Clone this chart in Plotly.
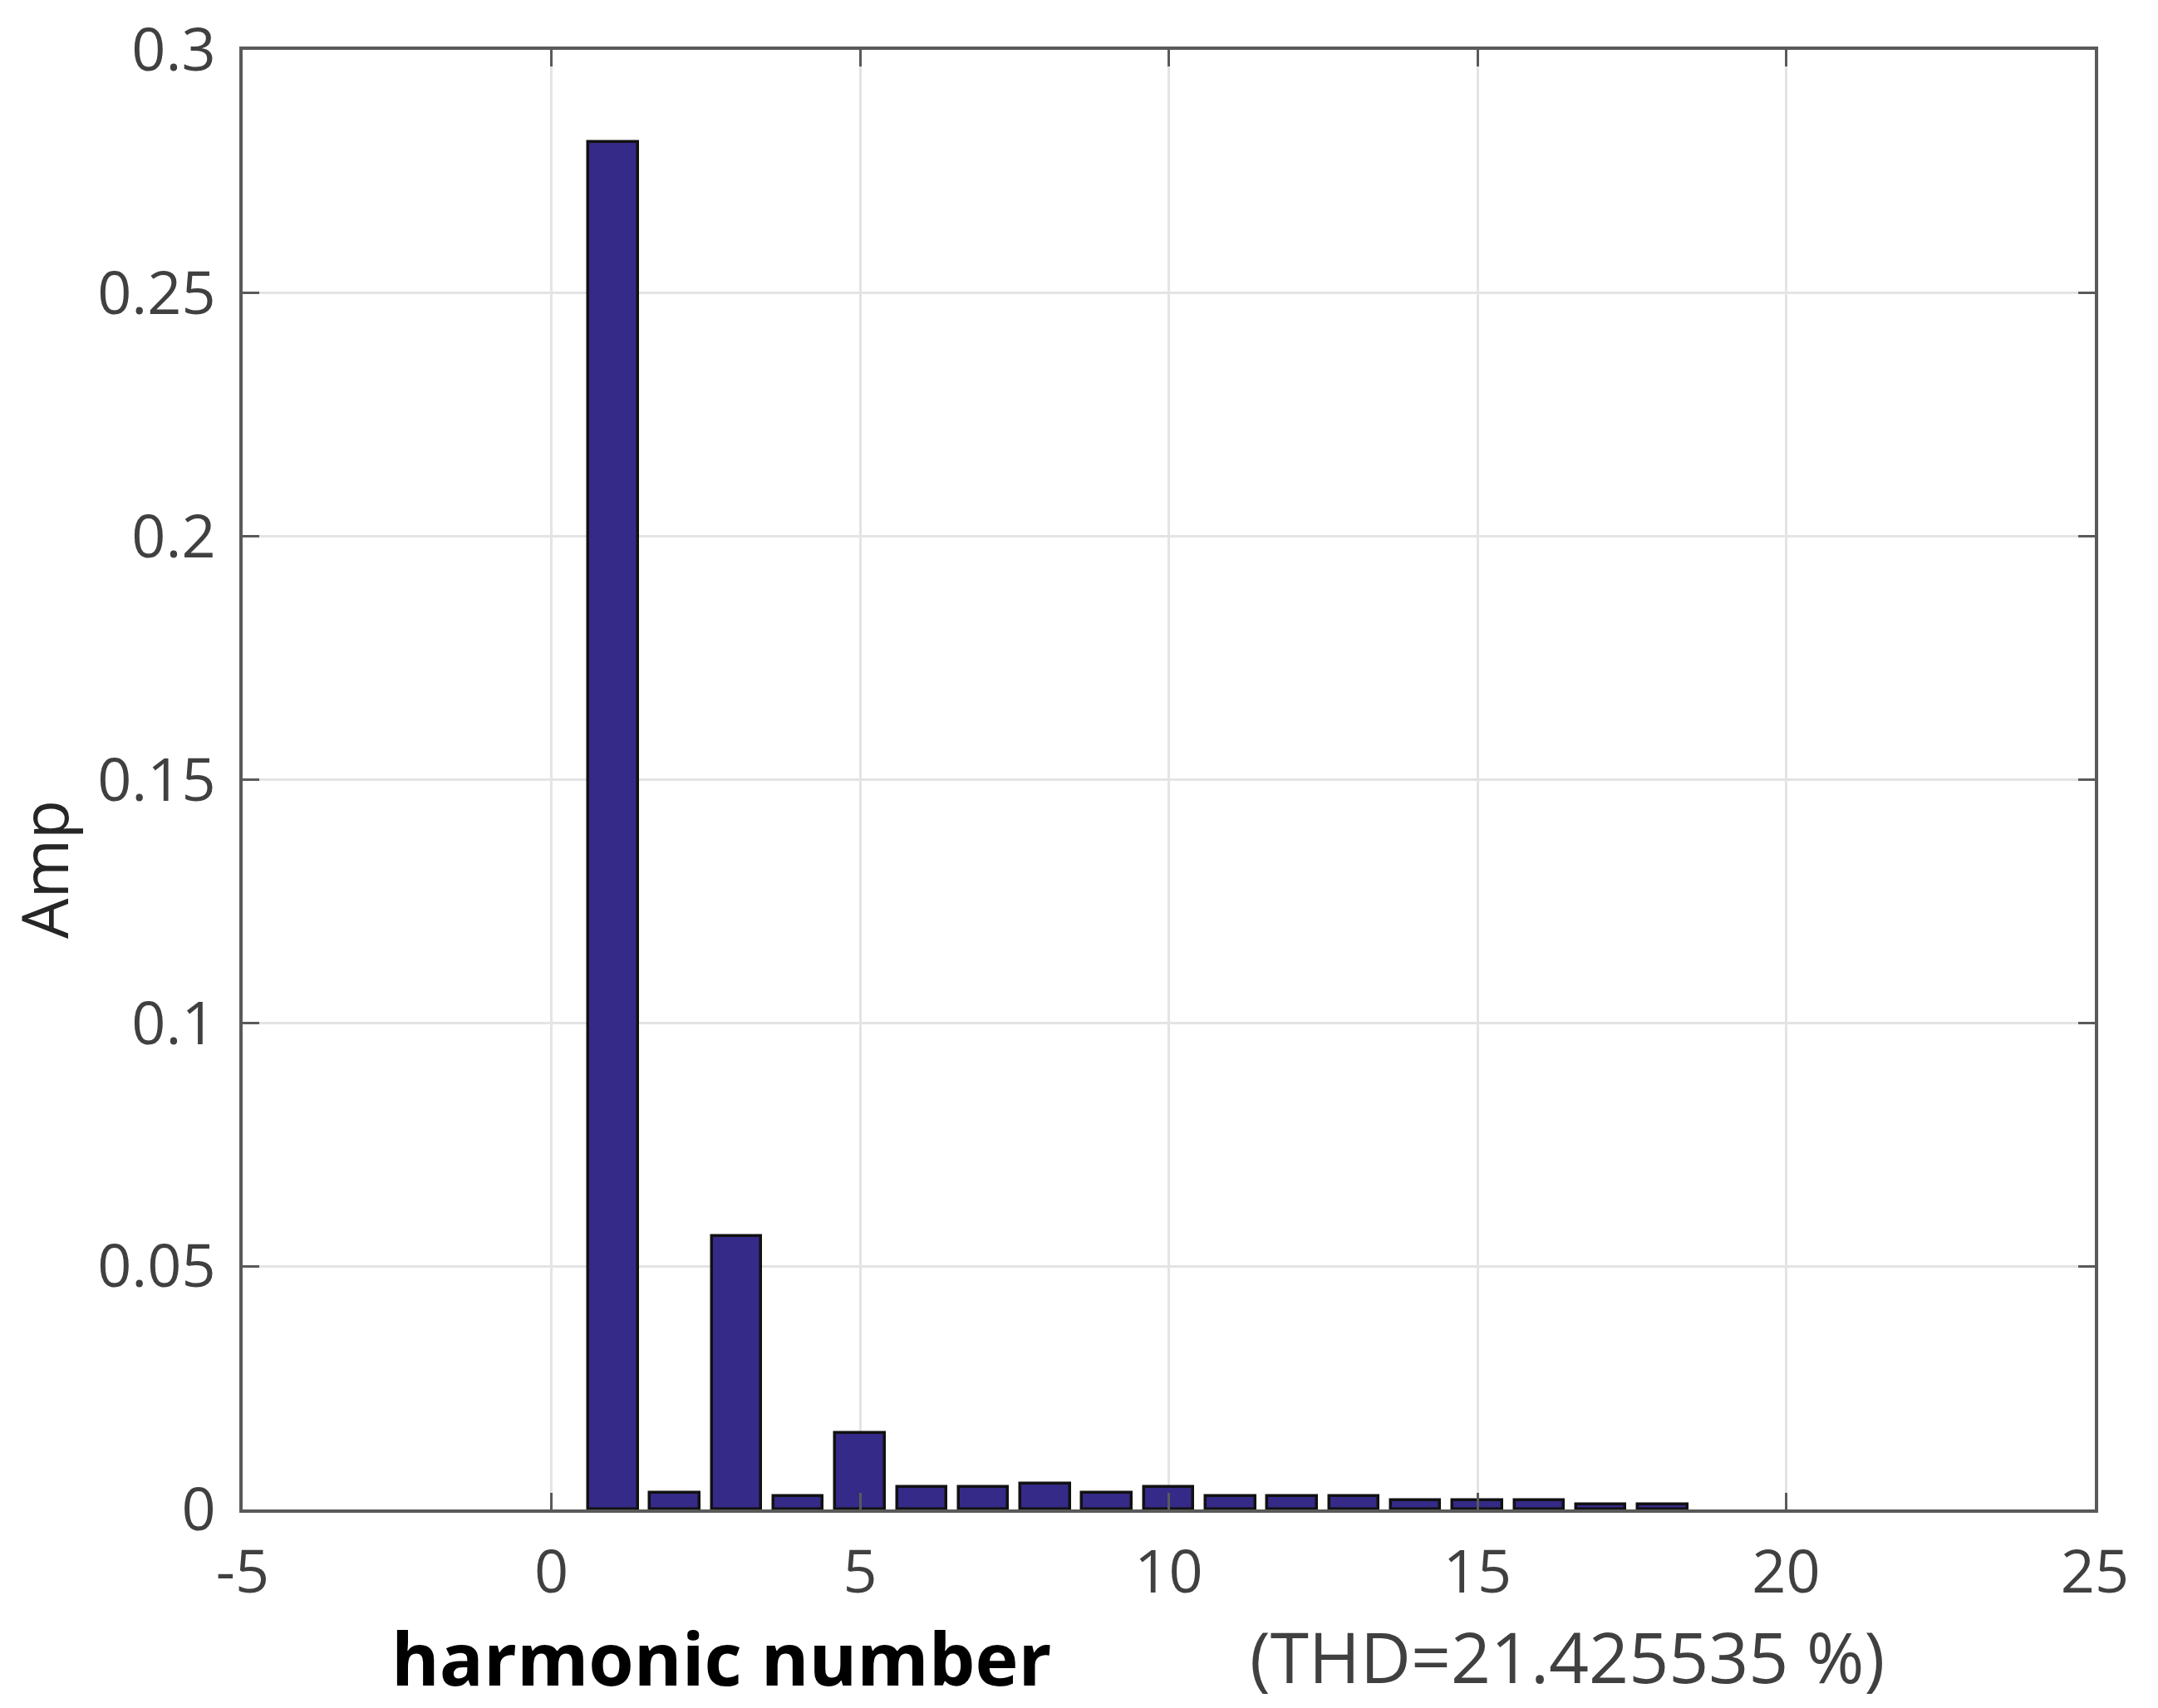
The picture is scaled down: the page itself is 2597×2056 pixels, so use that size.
import plotly.graph_objects as go

# harmonic spectrum
harmonic = [1, 2, 3, 4, 5, 6, 7, 8, 9, 10, 11, 12, 13, 14, 15, 16, 17, 18]
amp = [0.281, 0.0035, 0.0562, 0.0028, 0.0157, 0.0046, 0.0046, 0.0053, 0.0035,
       0.0046, 0.0028, 0.0028, 0.0028, 0.0018, 0.0018, 0.0018, 0.0011, 0.0011]

x_ticks = [-5, 0, 5, 10, 15, 20, 25]
x_labels = ["-5", "0", "5", "10", "15", "20", "25"]
y_ticks = [0, 0.05, 0.1, 0.15, 0.2, 0.25, 0.3]
y_labels = ["0", "0.05", "0.1", "0.15", "0.2", "0.25", "0.3"]

fig = go.Figure()
fig.add_trace(go.Bar(x=harmonic, y=amp, width=0.8,
                     marker=dict(color="#352a87", line=dict(color="#111111", width=3.5)),
                     showlegend=False))

axis_style = dict(showline=True, linecolor="#5a5a5a", linewidth=4, mirror="ticks",
                  ticks="inside", ticklen=20, tickwidth=3, tickcolor="#5a5a5a",
                  showgrid=True, gridcolor="#e4e4e4", gridwidth=3, zeroline=False,
                  automargin=False,
                  tickfont=dict(family="Open Sans", size=72, color="#404040"))

fig.update_xaxes(range=[-5, 25], tickvals=x_ticks, ticktext=x_labels, ticklabelstandoff=10,
                 **axis_style)
fig.update_yaxes(range=[0, 0.3], tickvals=y_ticks, ticktext=y_labels, ticklabelstandoff=14,
                 **axis_style)

# page has an 8px body margin, so the figure is a bit smaller than the window
OFF = 8
W, H = 2581, 2040
L, T = 292 - OFF, 60 - OFF
R, B = W - (2521 - OFF), H - (1817 - OFF)
pw, ph = W - L - R, H - T - B


def px_to_paper(px, py):
    return (px - OFF - L) / pw, (H - B - (py - OFF)) / ph


hx, hy = px_to_paper(868, 1995)
tx, ty = px_to_paper(1886, 1993)
ax, ay = px_to_paper(52, 1047)

fig.add_annotation(text="<b>harmonic number</b>", x=hx, y=hy, xref="paper", yref="paper",
                   xanchor="center", yanchor="middle", showarrow=False,
                   font=dict(family="Open Sans", size=88, color="#000000"))
fig.add_annotation(text="(THD=21.425535 %)", x=tx, y=ty, xref="paper", yref="paper",
                   xanchor="center", yanchor="middle", showarrow=False,
                   font=dict(family="Open Sans", size=84, color="#404040"))
fig.add_annotation(text="Amp", textangle=-90, x=ax, y=ay, xref="paper", yref="paper",
                   xanchor="center", yanchor="middle", showarrow=False,
                   font=dict(family="Open Sans", size=77, color="#262626"))

fig.update_layout(width=W, height=H, margin=dict(l=L, r=R, t=T, b=B),
                  plot_bgcolor="white", paper_bgcolor="white", bargap=0)

fig.write_html("out.html")
